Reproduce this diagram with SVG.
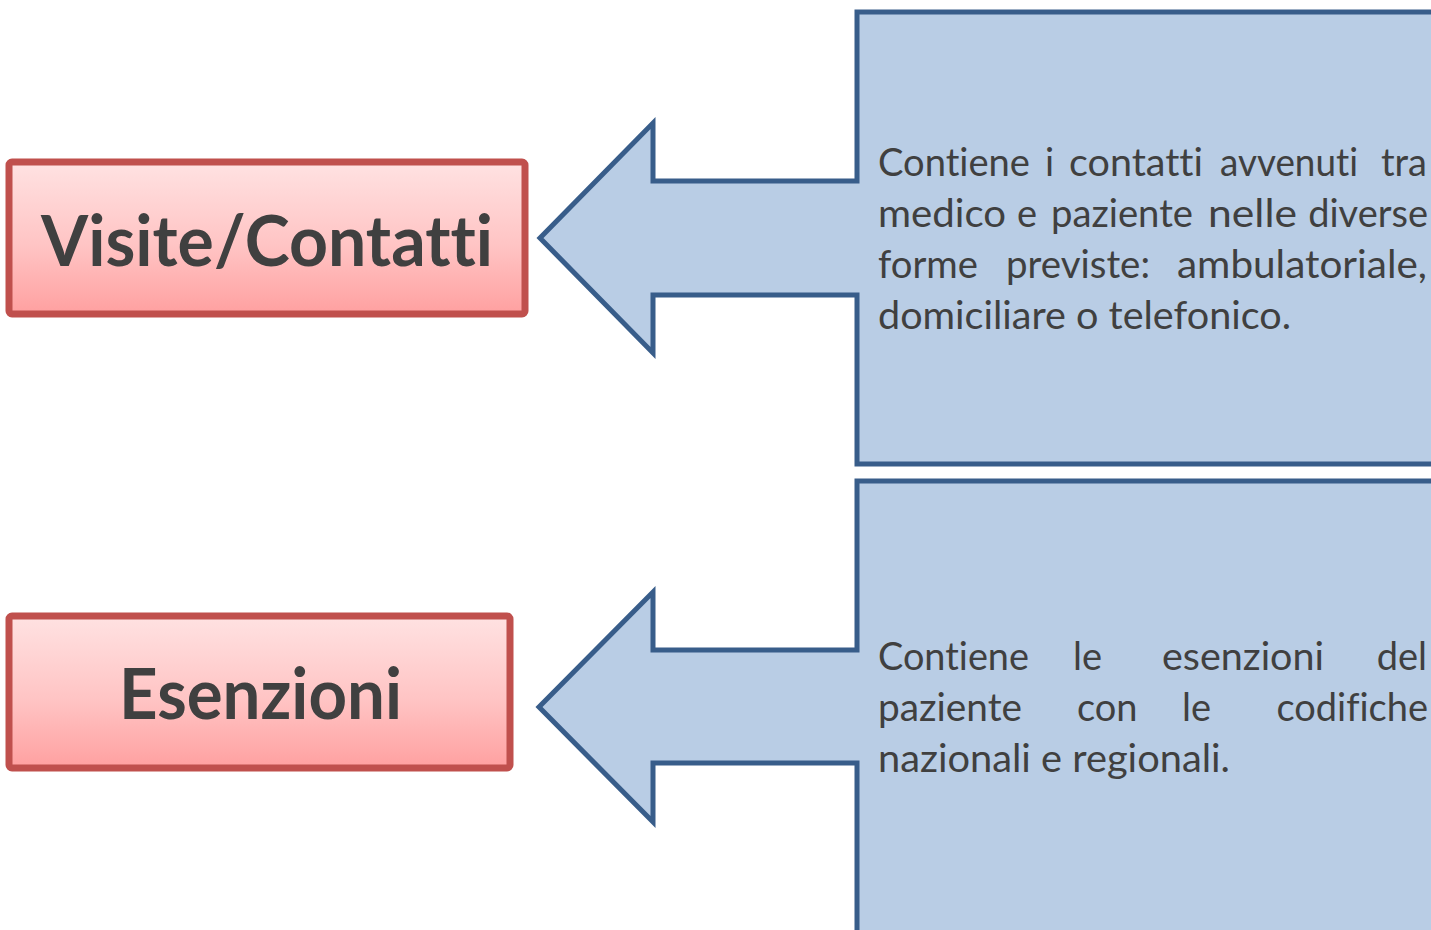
<svg xmlns="http://www.w3.org/2000/svg" width="1431" height="930" viewBox="0 0 1431 930">
  <defs>
    <linearGradient id="redGrad" x1="0" y1="0" x2="0" y2="1">
      <stop offset="0" stop-color="#FFE2E2"/>
      <stop offset="0.55" stop-color="#FFC4C4"/>
      <stop offset="1" stop-color="#FFA0A0"/>
    </linearGradient>
    <style>
      .callout { fill: #B9CDE5; stroke: #385D8A; stroke-width: 5; stroke-linejoin: miter; }
      .redbox { fill: url(#redGrad); stroke: #C0504D; stroke-width: 7; }
      .title { font-family: Lato, "Open Sans", "Liberation Sans", sans-serif; font-weight: bold; font-size: 70px; fill: #404040; font-variant-ligatures: none; font-feature-settings: "liga" 0, "clig" 0; }
      .body { font-family: Lato, "Open Sans", "Liberation Sans", sans-serif; font-size: 38px; fill: #404040; font-variant-ligatures: none; font-feature-settings: "liga" 0, "clig" 0; }
      .end { text-anchor: end; }
    </style>
  </defs>
  <rect width="1431" height="930" fill="#FFFFFF"/>

  <g id="callout-visite">
    <path class="callout" d="M 857,12 H 1445 V 464 H 857 V 295 H 653 V 353 L 540,238 L 653,123 V 181 H 857 Z"/>
    <g class="body">
      <text x="878" y="176" textLength="152" lengthAdjust="spacingAndGlyphs">Contiene</text>
      <text x="1045" y="176">i</text>
      <text x="1069" y="176" textLength="134" lengthAdjust="spacingAndGlyphs">contatti</text>
      <text x="1220" y="176" textLength="138" lengthAdjust="spacingAndGlyphs">avvenuti</text>
      <text class="end" x="1427" y="176">tra</text>

      <text x="878" y="227" textLength="128" lengthAdjust="spacingAndGlyphs">medico</text>
      <text x="1017" y="227">e</text>
      <text x="1051" y="227" textLength="142" lengthAdjust="spacingAndGlyphs">paziente</text>
      <text x="1208" y="227" textLength="89" lengthAdjust="spacingAndGlyphs">nelle</text>
      <text class="end" x="1428" y="227">diverse</text>

      <text x="878" y="278" textLength="100" lengthAdjust="spacingAndGlyphs">forme</text>
      <text x="1006" y="278" textLength="144" lengthAdjust="spacingAndGlyphs">previste:</text>
      <text x="1177" y="278" textLength="250" lengthAdjust="spacingAndGlyphs">ambulatoriale,</text>

      <text x="878" y="329" textLength="413" lengthAdjust="spacingAndGlyphs">domiciliare o telefonico.</text>
    </g>
  </g>

  <g id="callout-esenzioni">
    <path class="callout" d="M 857,481 H 1445 V 945 H 857 V 763 H 653 V 822 L 539,707 L 653,592 V 650 H 857 Z"/>
    <g class="body">
      <text x="878" y="670" textLength="151" lengthAdjust="spacingAndGlyphs">Contiene</text>
      <text x="1073" y="670">le</text>
      <text x="1162" y="670" textLength="162" lengthAdjust="spacingAndGlyphs">esenzioni</text>
      <text class="end" x="1427" y="670">del</text>

      <text x="878" y="721" textLength="144" lengthAdjust="spacingAndGlyphs">paziente</text>
      <text x="1077" y="721">con</text>
      <text x="1182" y="721">le</text>
      <text class="end" x="1428" y="721">codifiche</text>

      <text x="878" y="772" textLength="352" lengthAdjust="spacingAndGlyphs">nazionali e regionali.</text>
    </g>
  </g>

  <g id="node-visite">
    <rect class="redbox" x="9" y="162" width="516" height="152" rx="3"/>
    <text class="title" x="41" y="266" textLength="452" lengthAdjust="spacingAndGlyphs">Visite/Contatti</text>
  </g>

  <g id="node-esenzioni">
    <rect class="redbox" x="9" y="616" width="501" height="152" rx="3"/>
    <text class="title" x="119" y="719" textLength="283" lengthAdjust="spacingAndGlyphs">Esenzioni</text>
  </g>
</svg>
